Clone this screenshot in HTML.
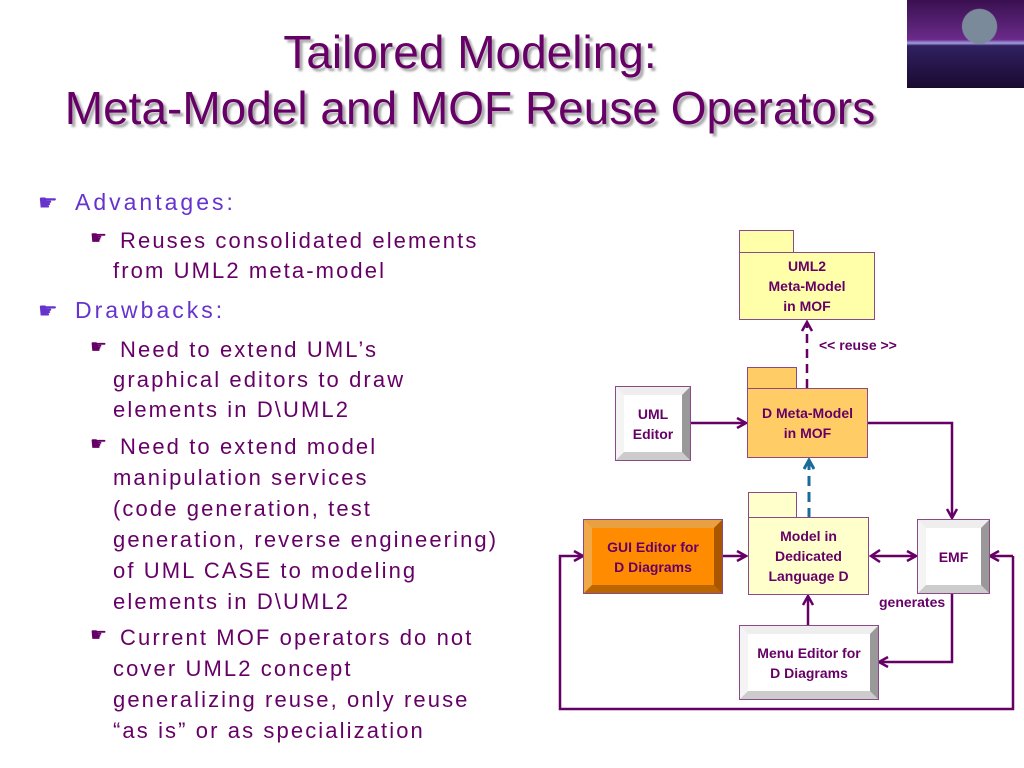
<!DOCTYPE html>
<html><head><meta charset="utf-8"><style>
body{margin:0;width:1024px;height:768px;background:#fff;position:relative;overflow:hidden;font-family:"Liberation Sans",sans-serif}
.t{position:absolute;white-space:nowrap}
.title{color:#660066;font-size:46px;text-shadow:3px 3px 2px #aaa;left:0;width:940px;text-align:center}
.l1{color:#6633cc;font-size:23px;letter-spacing:3px}
.l2{color:#660066;font-size:22px;letter-spacing:2.1px}
.b{position:absolute;color:#6633cc;font-size:22px}
.bx{position:absolute;box-sizing:border-box;display:flex;align-items:center;justify-content:center;text-align:center;font-weight:bold;font-size:14px;color:#660066;line-height:20px}
.pk{border:1.5px solid #8a4a8a}
.bev{border-style:solid;border-width:8px;}
</style></head><body>
<div class="t title" style="top:25px">Tailored Modeling:</div>
<div class="t title" style="top:81px">Meta-Model and MOF Reuse Operators</div>
<div style="position:absolute;left:907px;top:0;width:117px;height:88px;background:radial-gradient(circle at 62% 30%,#7a8a9a 0 18%,transparent 19%),linear-gradient(#3a1050,#6a2a8a 45%,#a0a0e0 49%,#302060 52%,#1a0a30)"></div>

<div class="b" style="left:38px;top:190px">☛</div>
<div class="t l1" style="left:75px;top:189px">Advantages:</div>
<div class="b" style="left:90px;top:227px;font-size:19px;color:#660066">☛</div>
<div class="t l2" style="left:120px;top:228px">Reuses consolidated elements</div>
<div class="t l2" style="left:113px;top:258px">from UML2 meta-model</div>
<div class="b" style="left:38px;top:298px">☛</div>
<div class="t l1" style="left:75px;top:297px">Drawbacks:</div>
<div class="b" style="left:90px;top:336px;font-size:19px;color:#660066">☛</div>
<div class="t l2" style="left:120px;top:337px">Need to extend UML’s</div>
<div class="t l2" style="left:113px;top:367px">graphical editors to draw</div>
<div class="t l2" style="left:113px;top:397px">elements in D\UML2</div>
<div class="b" style="left:90px;top:433px;font-size:19px;color:#660066">☛</div>
<div class="t l2" style="left:120px;top:434px">Need to extend model</div>
<div class="t l2" style="left:113px;top:465px">manipulation services</div>
<div class="t l2" style="left:113px;top:496px">(code generation, test</div>
<div class="t l2" style="left:113px;top:527px">generation, reverse engineering)</div>
<div class="t l2" style="left:113px;top:558px">of UML CASE to modeling</div>
<div class="t l2" style="left:113px;top:589px">elements in D\UML2</div>
<div class="b" style="left:90px;top:624px;font-size:19px;color:#660066">☛</div>
<div class="t l2" style="left:120px;top:625px">Current MOF operators do not</div>
<div class="t l2" style="left:113px;top:656px">cover UML2 concept</div>
<div class="t l2" style="left:113px;top:687px">generalizing reuse, only reuse</div>
<div class="t l2" style="left:113px;top:718px">“as is” or as specialization</div>

<svg style="position:absolute;left:0;top:0" width="1024" height="768">
<defs><marker id="a" markerWidth="12" markerHeight="12" refX="10" refY="6" orient="auto" markerUnits="userSpaceOnUse"><path d="M1,1 L10,6 L1,11" fill="none" stroke="#660066" stroke-width="2.5"/></marker>
<marker id="ab" markerWidth="12" markerHeight="12" refX="10" refY="6" orient="auto" markerUnits="userSpaceOnUse"><path d="M1,1 L10,6 L1,11" fill="none" stroke="#1a6a9a" stroke-width="3"/></marker></defs>
<g fill="none" stroke="#660066" stroke-width="2.5">
<path d="M807,388 V322" stroke-dasharray="9,6" marker-end="url(#a)"/>
<path d="M689,423 H746" marker-end="url(#a)"/>
<path d="M867,423 H952 V518" marker-end="url(#a)"/>
<path d="M872,556 H916" marker-end="url(#a)"/>
<path d="M880,550 L871,556 L880,562"/>
<path d="M721,556 H746" marker-end="url(#a)"/>
<path d="M808,626 V596" marker-end="url(#a)"/>
<path d="M952,592 V662 H879" marker-end="url(#a)"/>
<path d="M1013,556 V709 H560 V556 H583" marker-end="url(#a)"/>
<path d="M1013,556 H990" marker-end="url(#a)"/>
</g>
<path d="M809,518 V460" stroke="#1a6a9a" stroke-width="3" stroke-dasharray="10,6" fill="none" marker-end="url(#ab)"/>
</svg>

<div class="bx pk" style="left:739px;top:230px;width:55px;height:23px;background:#ffffaa"></div>
<div class="bx pk" style="left:739px;top:252px;width:136px;height:68px;background:#ffffaa">UML2<br>Meta-Model<br>in MOF</div>
<div class="t" style="left:819px;top:337px;font-size:14px;font-weight:bold;color:#660066">&lt;&lt; reuse &gt;&gt;</div>
<div class="bx pk" style="left:747px;top:367px;width:50px;height:22px;background:#ffcc66"></div>
<div class="bx pk" style="left:747px;top:388px;width:121px;height:70px;background:#ffcc66">D Meta-Model<br>in MOF</div>
<div class="bx pk" style="left:748px;top:492px;width:49px;height:26px;background:#ffffcc"></div>
<div class="bx pk" style="left:748px;top:517px;width:121px;height:78px;background:#ffffcc">Model in<br>Dedicated<br>Language D</div>

<div class="bx bev" style="left:616px;top:387px;width:74px;height:73px;border-color:#eee #999 #ccc #f4f4f4;background:#fff;outline:1px solid #8a4a8a">UML<br>Editor</div>
<div class="bx bev" style="left:584px;top:520px;width:138px;height:73px;border-color:#e8a040 #aa5500 #bb6600 #f0a848;background:#ff8c00;outline:1px solid #8a4a8a">GUI Editor for<br>D Diagrams</div>
<div class="bx bev" style="left:918px;top:520px;width:71px;height:73px;border-color:#eee #999 #ccc #f4f4f4;background:#fff;outline:1px solid #8a4a8a">EMF</div>
<div class="bx bev" style="left:740px;top:626px;width:138px;height:73px;border-color:#eee #999 #ccc #f4f4f4;background:#fff;outline:1px solid #8a4a8a">Menu Editor for<br>D Diagrams</div>
<div class="t" style="left:879px;top:594px;font-size:14px;font-weight:bold;color:#660066">generates</div>
</body></html>
